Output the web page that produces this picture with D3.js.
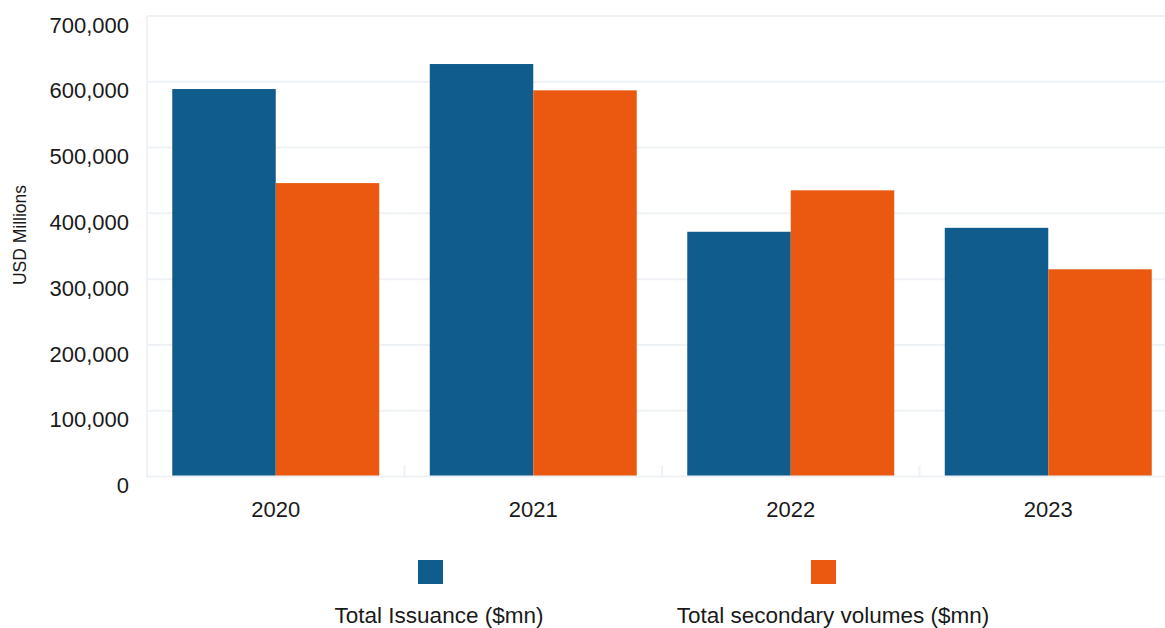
<!DOCTYPE html>
<html>
<head>
<meta charset="utf-8">
<script src="https://cdn.jsdelivr.net/npm/d3@7"></script>
<style>
  html, body { margin: 0; padding: 0; background: #fff; }
  svg { display: block; }
  text { font-family: "Liberation Sans", Arial, Helvetica, sans-serif; fill: #1a1a1a; }
</style>
</head>
<body>
<svg id="chart" width="1165" height="628"></svg>
<script>
const categories = ["2020", "2021", "2022", "2023"];
const seriesNames = ["Total Issuance ($mn)", "Total secondary volumes ($mn)"];
const issuance = [589000, 627000, 372000, 378000];
const secondary = [446000, 587000, 435000, 315000];
const yTicks = [0, 100000, 200000, 300000, 400000, 500000, 600000, 700000];
const colors = ["#105c8c", "#ea590f"];

const svg = d3.select("#chart");
const gridColor = "#eef1f5";

const x0 = d3.scaleBand().domain(categories).range([147, 1177]).padding(0);
const x1 = d3.scaleBand().domain([0, 1]).range([0, x0.bandwidth()]).paddingInner(0).paddingOuter(0.244);
const y = d3.scaleLinear().domain([0, 700000]).range([476.5, 16]);

// gridlines
svg.append("g").selectAll("line").data(yTicks.filter(d => d > 0)).join("line")
  .attr("x1", 147).attr("x2", 1177)
  .attr("y1", d => y(d)).attr("y2", d => y(d))
  .attr("stroke", gridColor).attr("stroke-width", 2);

// y axis line
svg.append("line").attr("x1", 147).attr("x2", 147).attr("y1", y(700000)).attr("y2", y(0))
  .attr("stroke", gridColor).attr("stroke-width", 2);

// y tick labels
const fmt = d3.format(",");
svg.append("g").selectAll("text").data(yTicks).join("text")
  .attr("x", 129).attr("y", d => y(d) + 9).attr("dy", "0.35em")
  .attr("text-anchor", "end").style("font-size", "22px")
  .text(d => fmt(d));

// bars
const data = categories.map((c, i) => ({ cat: c, vals: [issuance[i], secondary[i]] }));
const groups = svg.append("g").selectAll("g").data(data).join("g")
  .attr("transform", d => `translate(${x0(d.cat)},0)`);
groups.selectAll("rect").data(d => d.vals.map((v, k) => ({ v, k }))).join("rect")
  .attr("x", d => x1(d.k))
  .attr("width", x1.bandwidth())
  .attr("y", d => y(d.v))
  .attr("height", d => y(0) - y(d.v))
  .attr("fill", d => colors[d.k]);

// x axis baseline
svg.append("line").attr("x1", 146).attr("x2", 1177).attr("y1", y(0)).attr("y2", y(0))
  .attr("stroke", gridColor).attr("stroke-width", 2);
// x ticks at band boundaries
const bounds = categories.map(c => x0(c)).concat([x0(categories[3]) + x0.bandwidth()]);
svg.append("g").selectAll("line").data(bounds).join("line")
  .attr("x1", d => d).attr("x2", d => d)
  .attr("y1", y(0) - 11).attr("y2", y(0))
  .attr("stroke", gridColor).attr("stroke-width", 2);

// x labels
svg.append("g").selectAll("text").data(categories).join("text")
  .attr("x", d => x0(d) + x0.bandwidth() / 2).attr("y", 509).attr("dy", "0.35em")
  .attr("text-anchor", "middle").style("font-size", "22px")
  .text(d => d);

// y axis title
svg.append("text")
  .attr("transform", "translate(20,235) rotate(-90)")
  .attr("text-anchor", "middle").attr("dy", "0.35em")
  .style("font-size", "17.5px")
  .text("USD Millions");

// legend
const legendX = [430.5, 823.5];
const leg = svg.append("g").selectAll("g").data(seriesNames).join("g");
leg.append("rect")
  .attr("x", (d, i) => legendX[i] - 12.5).attr("y", 560)
  .attr("width", 25).attr("height", 24)
  .attr("fill", (d, i) => colors[i]);
leg.append("text")
  .attr("x", (d, i) => [439, 833][i]).attr("y", 615).attr("dy", "0.35em")
  .attr("text-anchor", "middle").style("font-size", "22.5px")
  .text(d => d);
</script>
</body>
</html>
